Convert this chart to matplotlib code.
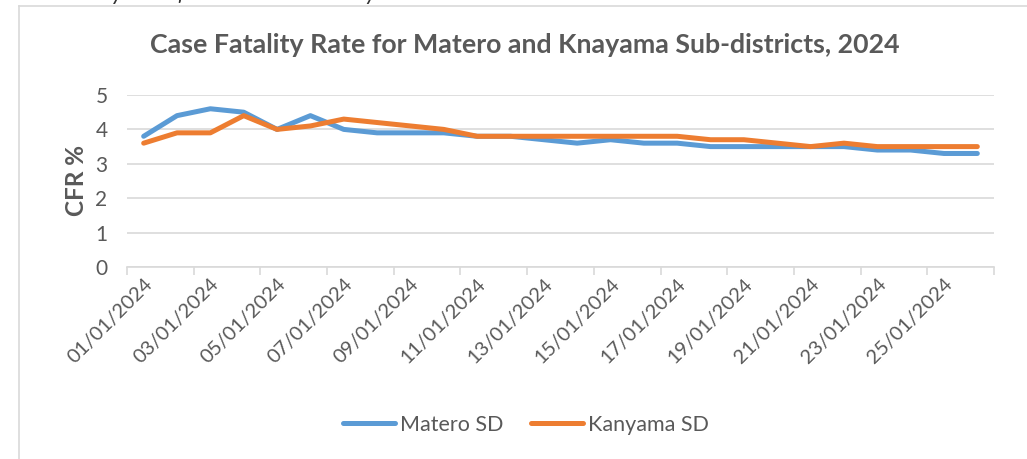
import numpy as np
import matplotlib
matplotlib.use("Agg")
import matplotlib.pyplot as plt
from matplotlib.lines import Line2D

plt.rcParams['font.family'] = ['Lato', 'DejaVu Sans']

# data, 01/01/2024 .. 26/01/2024
dates = ["%02d/01/2024" % d for d in range(1, 27)]
matero = [3.8, 4.4, 4.6, 4.5, 4.0, 4.4, 4.0, 3.9, 3.9, 3.9, 3.8, 3.8, 3.7,
          3.6, 3.7, 3.6, 3.6, 3.5, 3.5, 3.5, 3.5, 3.5, 3.4, 3.4, 3.3, 3.3]
kanyama = [3.6, 3.9, 3.9, 4.4, 4.0, 4.1, 4.3, 4.2, 4.1, 4.0, 3.8, 3.8, 3.8,
           3.8, 3.8, 3.8, 3.8, 3.7, 3.7, 3.6, 3.5, 3.6, 3.5, 3.5, 3.5, 3.5]
series_names = ["Matero SD", "Kanyama SD"]

W, H = 1027, 459
GREY = "#595959"
GRID = "#d9d9d9"

fig = plt.figure(figsize=(W / 100, H / 100), dpi=100)

# caption of the document, mostly cut off by the top edge
fig.text(-2 / W, 1 - 0.5 / H, "Case Fatality Rate for Matero and Kanyama SD",
         fontsize=16.5, style="italic", color="#333333", va="baseline", ha="left")

# chart area border (left and top)
fig.add_artist(Line2D([19 / W, 19 / W], [0, 1 - 6 / H], color=GRID, lw=1.2))
fig.add_artist(Line2D([19 / W, 1], [1 - 6 / H, 1 - 6 / H], color=GRID, lw=1.2))

ax = fig.add_axes([127 / W, 1 - 267 / H, (994 - 127) / W, (267 - 95) / H])

x = np.arange(len(dates))
ax.plot(x, matero, color="#5B9BD5", lw=3.6, solid_capstyle="round",
        solid_joinstyle="round", label=series_names[0])
ax.plot(x, kanyama, color="#ED7D31", lw=3.6, solid_capstyle="round",
        solid_joinstyle="round", label=series_names[1])

ax.set_xlim(-0.5, len(dates) - 0.5)
ax.set_ylim(0, 5)
ax.set_yticks(range(6))
ax.yaxis.grid(True, color=GRID, lw=1.2)
ax.set_axisbelow(True)

ax.set_xticks(x[::2])
ax.set_xticklabels(dates[::2], rotation=45, ha="right", rotation_mode="anchor",
                   fontsize=14.5, color=GREY)
ax.set_xticks(np.arange(-0.5, len(dates), 2), minor=True)
ax.tick_params(axis="x", which="major", length=0, pad=6)
ax.tick_params(axis="x", which="minor", length=6, color=GRID, width=1.2)
ax.tick_params(axis="y", length=0, labelsize=15, labelcolor=GREY, pad=14)

for side in ["top", "right", "left"]:
    ax.spines[side].set_visible(False)
ax.spines["bottom"].set_color(GRID)
ax.spines["bottom"].set_linewidth(1.2)

ax.set_ylabel("CFR %", fontsize=17.5, fontweight="bold", color=GREY, labelpad=5)

fig.text(525 / W, 1 - 45 / H,
         "Case Fatality Rate for Matero and Knayama Sub-districts, 2024",
         fontsize=19.3, fontweight="bold", color=GREY, ha="center", va="center")

fig.legend(loc="center", bbox_to_anchor=(526 / W, 1 - 425 / H), ncol=2,
           frameon=False, fontsize=15.5, labelcolor=GREY, handlelength=2.4,
           handletextpad=0.25, columnspacing=1.3)

fig.savefig("out.png", dpi=100)
